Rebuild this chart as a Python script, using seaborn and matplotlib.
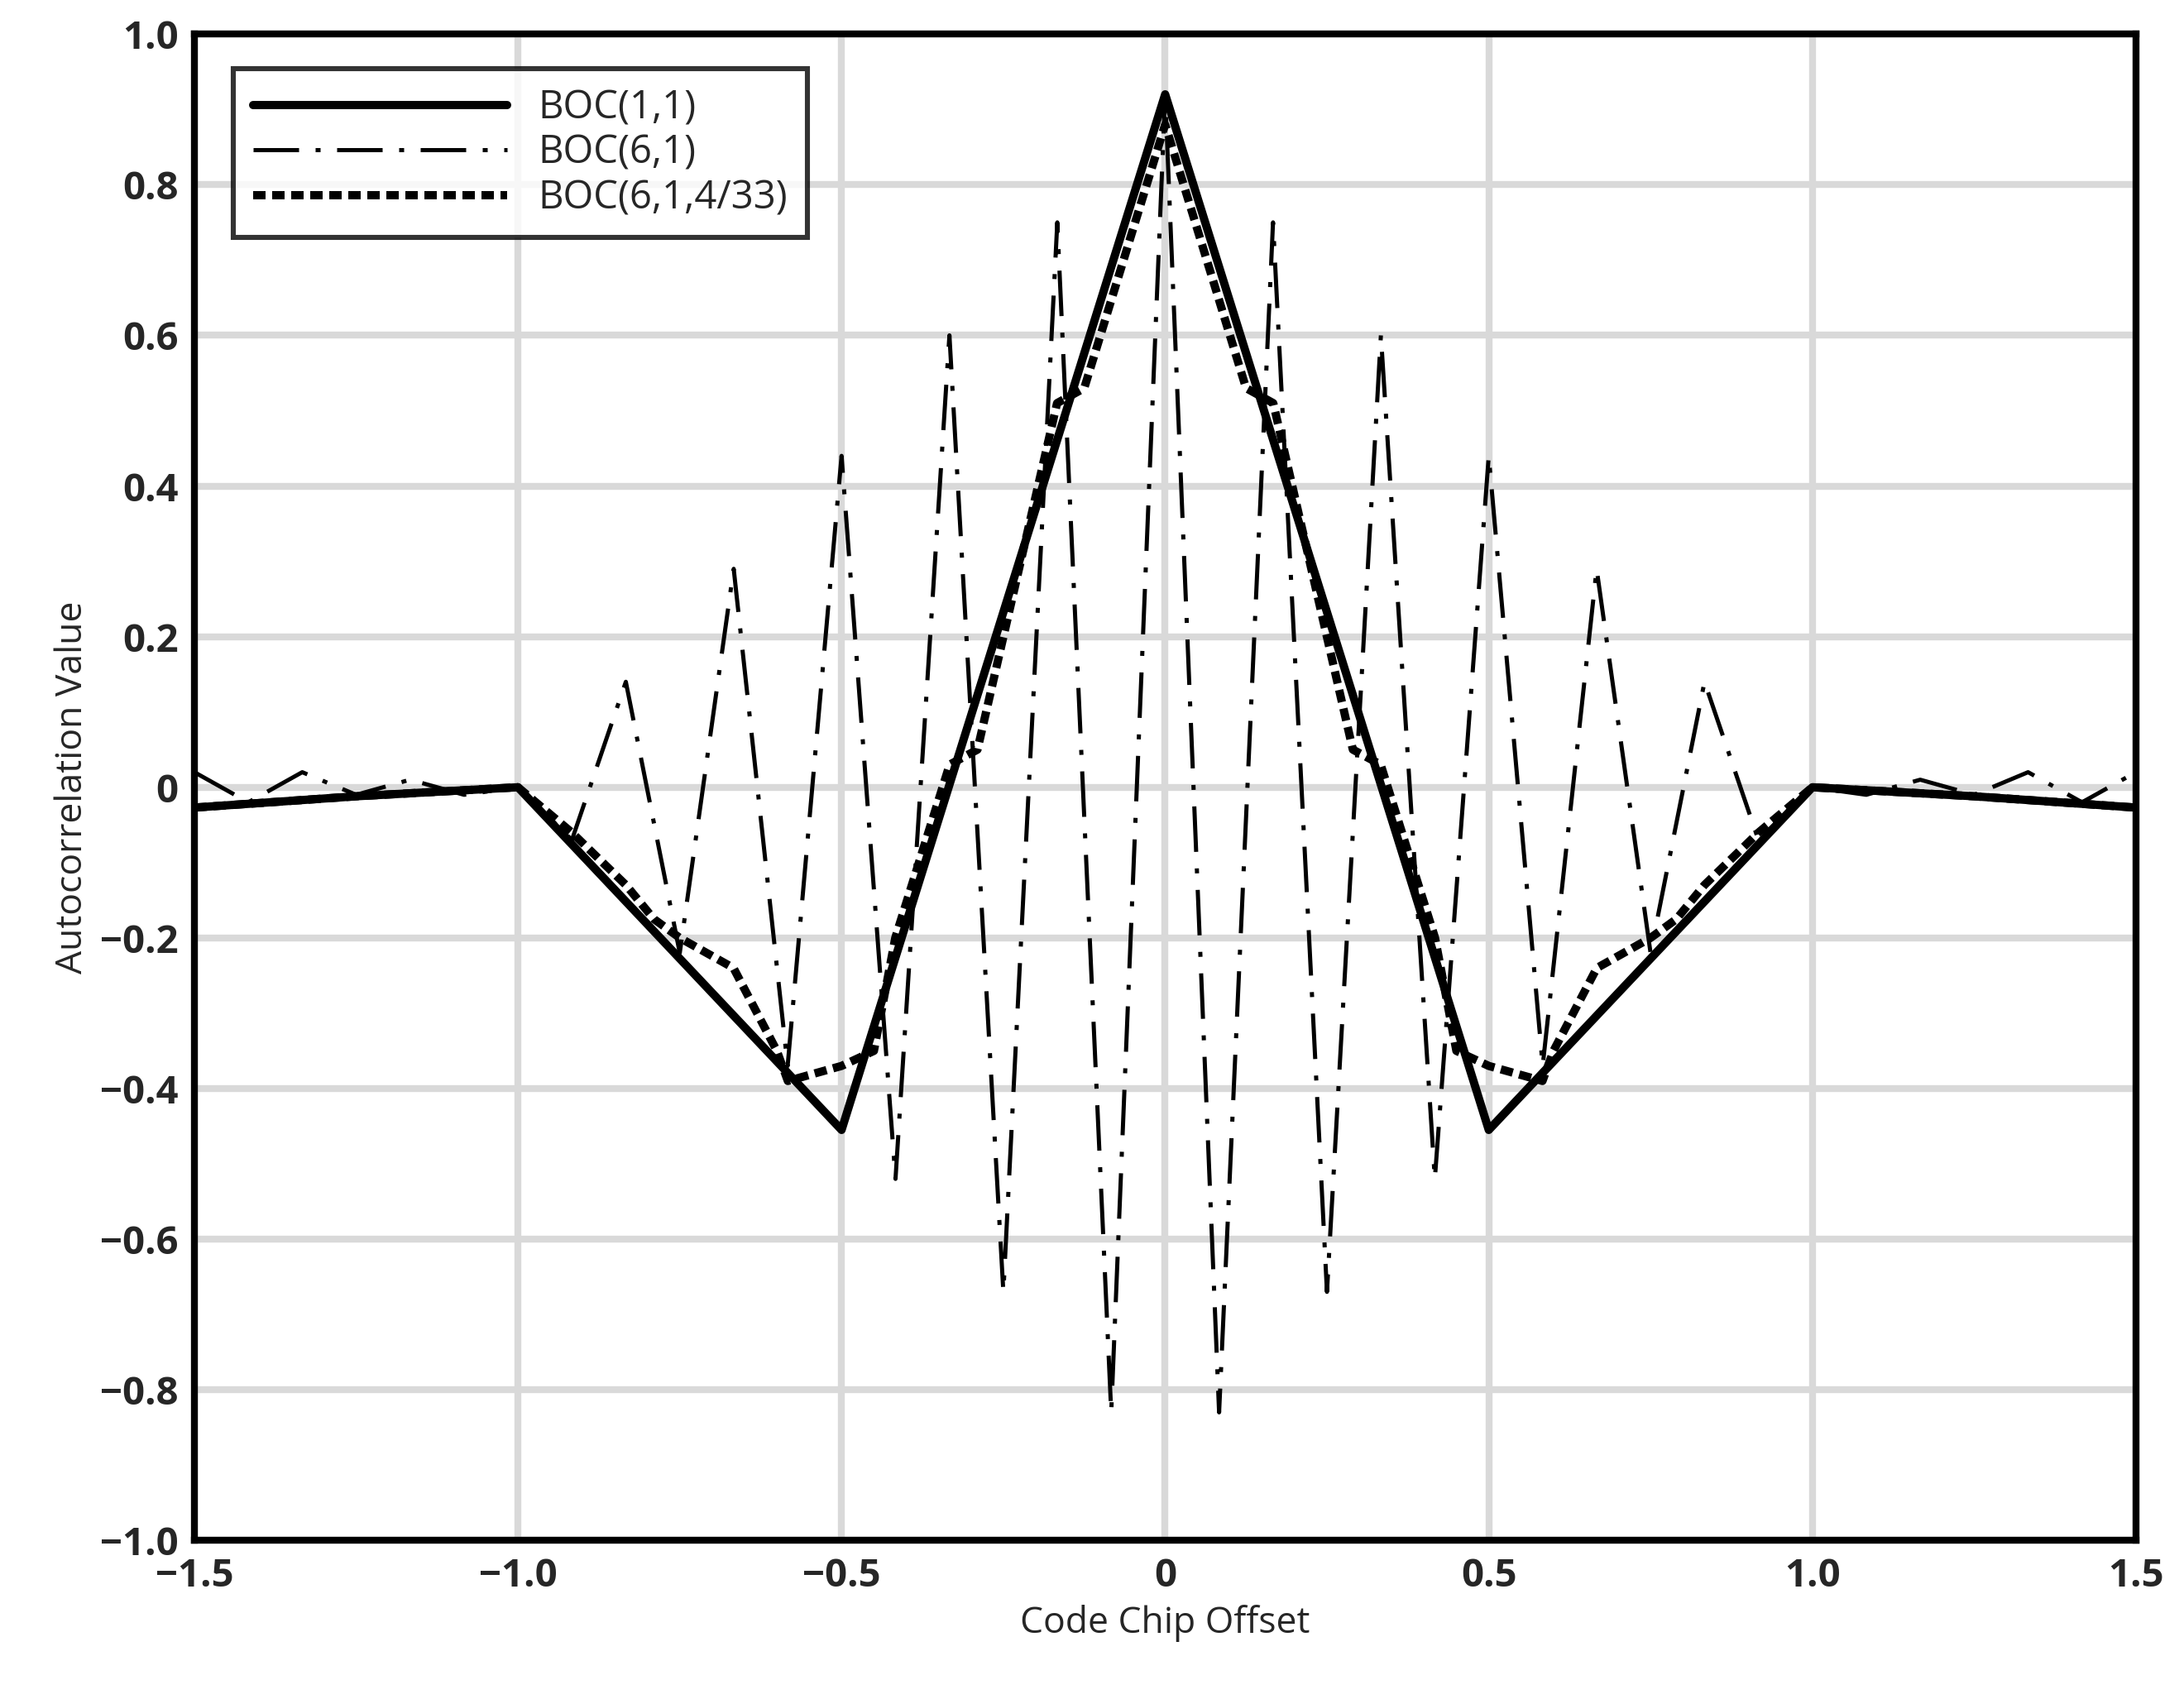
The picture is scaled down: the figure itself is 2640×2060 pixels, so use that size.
import numpy as np
import pandas as pd
import matplotlib
matplotlib.use('Agg')
import matplotlib.pyplot as plt
import seaborn as sns

# ── DATA ──────────────────────────────────────────────────
# BOC(1,1)
boc11_x = [-1.5, -1.25, -1.0, -0.5, 0.0, 0.5, 1.0, 1.25, 1.5]
boc11_y = [-0.027, -0.012, 0.0, -0.455, 0.92, -0.455, 0.0, -0.012, -0.027]

# BOC(6,1): extrema at k/12, left half incl. centre (mirrored below)
boc61_k = [-18, -17, -16, -15, -14, -13, -12, -11, -10, -9, -8, -7, -6, -5, -4, -3, -2, -1, 0]
boc61_half = [0.02, -0.02, 0.02, -0.01, 0.01, -0.01, 0.0, -0.07, 0.14, -0.22, 0.29,
              -0.37, 0.44, -0.52, 0.60, -0.67, 0.75, -0.83, 0.92]

# BOC(6,1,4/33), left half incl. centre
tm_x_half = [-1.5, -1.25, -1.0, -0.917, -0.833, -0.79, -0.75, -0.667, -0.6, -0.583,
             -0.5, -0.45, -0.417, -0.333, -0.29, -0.167, -0.125, 0.0]
tm_y_half = [-0.027, -0.012, 0.0, -0.06, -0.13, -0.175, -0.2, -0.24, -0.35, -0.39,
             -0.37, -0.35, -0.2, 0.03, 0.05, 0.51, 0.53, 0.88]

y_ticks = [-1.0, -0.8, -0.6, -0.4, -0.2, 0, 0.2, 0.4, 0.6, 0.8, 1.0]
y_labels = ['\u22121.0', '\u22120.8', '\u22120.6', '\u22120.4', '\u22120.2', '0',
            '0.2', '0.4', '0.6', '0.8', '1.0']
x_ticks = [-1.5, -1.0, -0.5, 0, 0.5, 1.0, 1.5]
x_labels = ['\u22121.5', '\u22121.0', '\u22120.5', '0', '0.5', '1.0', '1.5']

# mirror halves
boc61_x = [k / 12 for k in boc61_k] + [-k / 12 for k in boc61_k[-2::-1]]
boc61_y = boc61_half + boc61_half[-2::-1]
tm_x = tm_x_half + [-v for v in tm_x_half[-2::-1]]
tm_y = tm_y_half + tm_y_half[-2::-1]

# ── PLOT ──────────────────────────────────────────────────
sns.set_style('white')
plt.rcParams['font.family'] = ['Open Sans', 'DejaVu Sans']

fig = plt.figure(figsize=(13.2, 10.3), dpi=200)
ax = fig.add_axes([0.089, 0.096, 0.889, 0.884])

sns.lineplot(x=boc11_x, y=boc11_y, ax=ax, sort=False, color='black', lw=3.6,
             label='BOC(1,1)')
sns.lineplot(x=boc61_x, y=boc61_y, ax=ax, sort=False, color='black', lw=1.8,
             label='BOC(6,1)')
sns.lineplot(x=tm_x, y=tm_y, ax=ax, sort=False, color='black', lw=3.6,
             label='BOC(6,1,4/33)')
lines = ax.get_lines()
lines[1].set_dashes([11, 4, 1.2, 4])
lines[2].set_dashes([1.5, 0.8])

ax.set_xlim(-1.5, 1.5)
ax.set_ylim(-1.0, 1.0)
ax.set_xticks(x_ticks)
ax.set_xticklabels(x_labels, fontweight='bold', fontsize=17)
ax.set_yticks(y_ticks)
ax.set_yticklabels(y_labels, fontweight='bold', fontsize=17)
ax.grid(True, color='#d9d9d9', lw=3)
ax.set_axisbelow(True)
for s in ax.spines.values():
    s.set_color('black')
    s.set_linewidth(3)
ax.tick_params(length=0, pad=7)
ax.set_xlabel('Code Chip Offset', fontsize=16)
ax.set_ylabel('Autocorrelation Value', fontsize=16)

leg = ax.legend(loc='upper left', fontsize=17, frameon=True, fancybox=False,
                handlelength=6.5, borderpad=0.5, labelspacing=0.15,
                bbox_to_anchor=(0.01, 0.99))
leg.get_frame().set_edgecolor('black')
leg.get_frame().set_linewidth(2.2)
leg.get_lines()[1].set_dashes([11, 4, 1.2, 4])
leg.get_lines()[2].set_dashes([1.5, 0.8])

plt.savefig('out.png', dpi=200, facecolor='white')
